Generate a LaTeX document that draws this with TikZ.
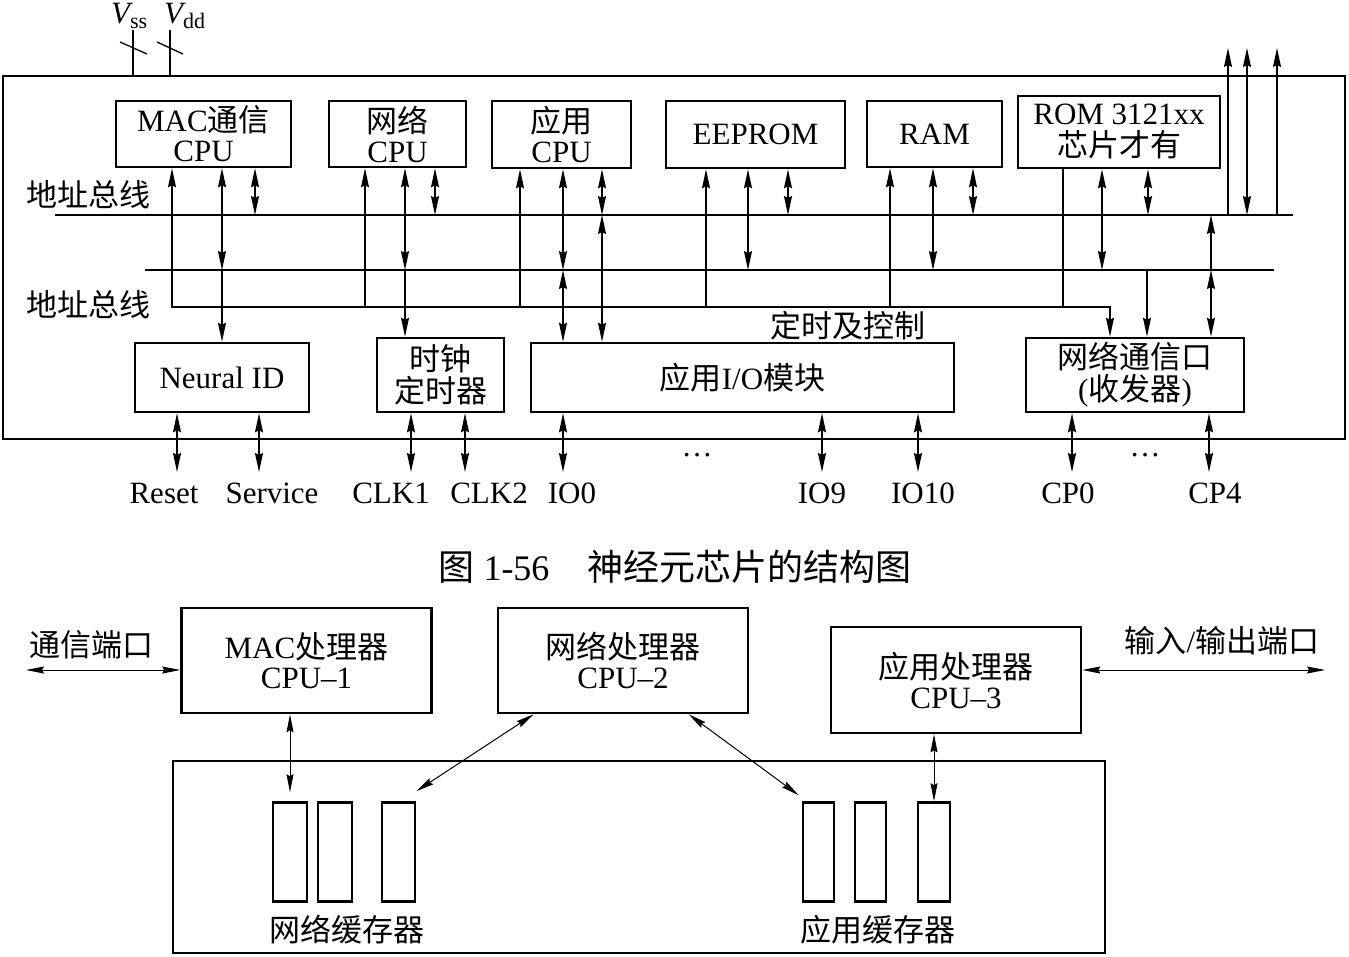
\documentclass[tikz,border=0pt]{standalone}
\usepackage{fontspec}
\setmainfont{Liberation Serif}
\newfontfamily\cjk{Noto Sans CJK SC}
\newcommand\zhtx[1]{{\cjk #1}}
\usetikzlibrary{arrows.meta,calc}
\begin{document}
\begin{tikzpicture}[x=1pt,y=-1pt,
  every node/.style={font=\fontsize{31}{32}\selectfont, inner sep=0pt},
  box/.style={draw, line width=2.6pt, align=center},
  buf/.style={draw, line width=2.6pt, minimum height=99pt},
  conn/.style={line width=1.3pt},
  arr/.style={conn, -{Stealth[length=19pt,width=8pt,inset=2pt]}},
  darr/.style={conn, {Stealth[length=19pt,width=8pt,inset=2pt]}-{Stealth[length=19pt,width=8pt,inset=2pt]}},
  sdarr/.style={line width=1pt, {Stealth[length=18pt,width=7pt,inset=2pt]}-{Stealth[length=18pt,width=7pt,inset=2pt]}},
  bus/.style={line width=2.6pt},
  ]
\useasboundingbox (0,0) rectangle (1349,956);

% ---------------- top figure ----------------
\node[box, minimum width=1342pt, minimum height=363pt] (chip) at (674,257.5) {};

% supply pins
\coordinate (vss) at (133,30);
\coordinate (vdd) at (170,30);
\draw[conn] (vss) -- (vss |- chip.north);
\draw[conn] (vdd) -- (vdd |- chip.north);
\draw[conn] (120,42) -- (147,54);
\draw[conn] (157,42) -- (183,54);
\node[anchor=base west] (lvss) at (111,23) {{\itshape V}\raisebox{-5pt}{\fontsize{22}{22}\selectfont ss}};
\node[anchor=base west] (lvdd) at (164,23) {{\itshape V}\raisebox{-5pt}{\fontsize{22}{22}\selectfont dd}};

% upper boxes
\node[box, minimum width=175pt, minimum height=66pt] (mac) at (203.5,134) {MAC\zhtx{通信}\\[-2pt]CPU};
\node[box, minimum width=137pt, minimum height=66pt] (net) at (397.5,134) {\zhtx{网络}\\[-2pt]CPU};
\node[box, minimum width=139pt, minimum height=67pt] (app) at (561.5,134.5) {\zhtx{应用}\\[-2pt]CPU};
\node[box, minimum width=179pt, minimum height=67pt] (eep) at (755.5,134.5) {EEPROM};
\node[box, minimum width=135pt, minimum height=66pt] (ram) at (934.5,134) {RAM};
\node[box, minimum width=202pt, minimum height=72pt] (rom) at (1119,132) {ROM 3121xx\\\zhtx{芯片才有}};

% lower boxes
\node[box, minimum width=174pt, minimum height=69pt] (nid) at (222,377.5) {Neural ID};
\node[box, minimum width=127pt, minimum height=74pt] (clk) at (440.5,375) {\zhtx{时钟}\\\zhtx{定时器}};
\node[box, minimum width=423pt, minimum height=69pt] (aio) at (742.5,377.5) {\zhtx{应用}I/O\zhtx{模块}};
\node[box, minimum width=218pt, minimum height=74pt] (ncp) at (1135,375) {\zhtx{网络通信口}\\(\zhtx{收发器})};

% buses
\coordinate (b1w) at (55,215);  \coordinate (b1e) at (1293,215);
\coordinate (b2w) at (145,270); \coordinate (b2e) at (1274,270);
\coordinate (tcw) at (172,307); \coordinate (tce) at (1110,307);
\draw[bus] (b1w) -- (b1e);
\draw[bus] (b2w) -- (b2e);
\node (lab1) at (88,195) {\zhtx{地址总线}};
\node (lab2) at (88,305) {\zhtx{地址总线}};
\node (ltc) at (848,326) {\zhtx{定时及控制}};

% timing & control line
\draw[darr] (172,0 |- mac.south) -- (tcw) -- (tce) -- (1110,0 |- ncp.north);

% MAC CPU
\draw[darr] (222,0 |- mac.south) -- (222,0 |- b2w);
\draw[arr] (222,0 |- b2w) -- (222,0 |- nid.north);
\draw[darr] (255,0 |- mac.south) -- (255,0 |- b1w);
% network CPU
\draw[arr] (365,0 |- tcw) -- (365,0 |- net.south);
\draw[darr] (405,0 |- net.south) -- (405,0 |- b2w);
\draw[arr] (405,0 |- b2w) -- (405,0 |- clk.north);
\draw[darr] (435,0 |- net.south) -- (435,0 |- b1w);
% application CPU
\draw[arr] (520,0 |- tcw) -- (520,0 |- app.south);
\draw[darr] (563,0 |- app.south) -- (563,0 |- b2w);
\draw[darr] (563,0 |- b2w) -- (563,0 |- aio.north);
\draw[darr] (602,0 |- app.south) -- (602,0 |- b1w);
\draw[darr] (602,0 |- b1w) -- (602,0 |- aio.north);
% EEPROM
\draw[arr] (706,0 |- tcw) -- (706,0 |- eep.south);
\draw[darr] (748,0 |- eep.south) -- (748,0 |- b2w);
\draw[darr] (788,0 |- eep.south) -- (788,0 |- b1w);
% RAM
\draw[arr] (890,0 |- tcw) -- (890,0 |- ram.south);
\draw[darr] (933,0 |- ram.south) -- (933,0 |- b2w);
\draw[darr] (973,0 |- ram.south) -- (973,0 |- b1w);
% ROM
\draw[conn] (1063,0 |- rom.south) -- (1063,0 |- tcw);
\draw[darr] (1102,0 |- rom.south) -- (1102,0 |- b2w);
\draw[darr] (1148,0 |- rom.south) -- (1148,0 |- b1w);
% network port
\draw[arr] (1147,0 |- b2w) -- (1147,0 |- ncp.north);
\draw[arr] (1211,0 |- b2w) -- (1211,0 |- b1w);
\draw[darr] (1211,0 |- b2w) -- (1211,0 |- ncp.north);
% outgoing lines
\coordinate (out1) at (1228,48);
\coordinate (out2) at (1247,48);
\coordinate (out3) at (1277,48);
\draw[arr] (out1 |- b1w) -- (out1);
\draw[darr] (out2 |- b1w) -- (out2);
\draw[arr] (out3 |- b1w) -- (out3);

% pins
\foreach \x/\b in {177/nid,259/nid,411/clk,465/clk,563/aio,822/aio,918/aio,1072/ncp,1209/ncp}{
  \coordinate (pin\x) at (\x,472);
  \draw[darr] (\x,0 |- \b.south) -- (pin\x);
}
\node (lreset) at (164,493) {Reset};
\node (lserv) at (272,493) {Service};
\node (lclk1) at (391,493) {CLK1};
\node (lclk2) at (489,493) {CLK2};
\node (lio0) at (572,493) {IO0};
\node (lio9) at (822,493) {IO9};
\node (lio10) at (923,493) {IO10};
\node (lcp0) at (1068,493) {CP0};
\node (lcp4) at (1215,493) {CP4};
\node (dots1) at (697,455) {…};
\node (dots2) at (1145,455) {…};

% caption
\node[font=\fontsize{36}{36}\selectfont] (cap) at (675,567) {\zhtx{图}\hspace{9pt}1-56\hspace{38pt}\zhtx{神经元芯片的结构图}};

% ---------------- bottom figure ----------------
\node[box, minimum width=250pt, minimum height=105pt] (cpu1) at (306.5,660.5) {MAC\zhtx{处理器}\\[-2pt]CPU–1};
\node[box, minimum width=250pt, minimum height=105pt] (cpu2) at (623,660.5) {\zhtx{网络处理器}\\[-2pt]CPU–2};
\node[box, minimum width=250pt, minimum height=106pt] (cpu3) at (956,680) {\zhtx{应用处理器}\\[-2pt]CPU–3};
\node[box, minimum width=932pt, minimum height=192pt] (mem) at (639,857) {};

\node[buf, minimum width=34pt] (nb1) at (290,852) {};
\node[buf, minimum width=34pt] (nb2) at (335,852) {};
\node[buf, minimum width=33pt] (nb3) at (398.5,852) {};
\node[buf, minimum width=31pt] (ab1) at (818.5,852) {};
\node[buf, minimum width=31pt] (ab2) at (870.5,852) {};
\node[buf, minimum width=32pt] (ab3) at (934,852) {};
\node (nbl) at (347,930) {\zhtx{网络缓存器}};
\node (abl) at (878,930) {\zhtx{应用缓存器}};

\coordinate (pl) at (26,670);
\coordinate (pr) at (1325,670);
\node (lpl) at (91,645) {\zhtx{通信端口}};
\node (lpr) at (1222,641) {\zhtx{输入}/\zhtx{输出端口}};
\draw[sdarr] (pl) -- (pl -| cpu1.west);
\draw[sdarr] (pr -| cpu3.east) -- (pr);
\draw[sdarr] (cpu1.south -| nb1.north) -- ($(nb1.north)+(0,-9)$);
\draw[sdarr] ($(cpu2.south west)+(37,0)$) -- ($(nb3.north east)+(0,-10)$);
\draw[sdarr] ($(cpu2.south west)+(192,0)$) -- ($(ab1.north west)+(-3,-6)$);
\draw[sdarr] (cpu3.south -| ab3.north) -- (ab3.north);
\end{tikzpicture}
\end{document}
